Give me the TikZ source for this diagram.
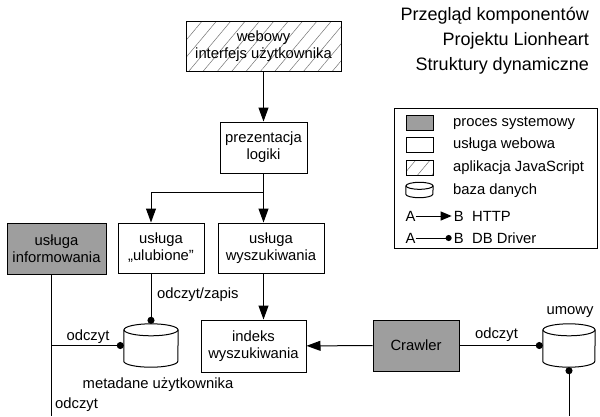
\documentclass[tikz,border=0pt]{standalone}
\usepackage{fontspec}
\setmainfont{Liberation Sans}
\usetikzlibrary{arrows.meta,patterns.meta}
\tikzset{
  comp/.style={draw, line width=1pt, align=center, inner sep=0pt},
  sysproc/.style={comp, fill=black!38},
  jsapp/.style={comp, pattern={Lines[angle=50,distance=11pt,line width=0.5pt]}, pattern color=black!55},
  dbase/.style={inner sep=0pt},
  http/.style={line width=1pt, -{Triangle[length=14pt,width=10pt]}},
  dbdrv/.style={line width=1pt, -{Circle[length=7pt]}},
  lghttp/.style={line width=1pt, -{Triangle[length=11pt,width=9pt]}},
  lgdbdrv/.style={line width=1pt, -{Circle[length=6pt]}},
}
% #1 node name, #2 half width, #3 depth of the ellipse
\newcommand{\dbcyl}[3]{%
  \draw[line width=1pt] ([yshift=-#3]#1.north west) -- ([yshift=#3]#1.south west)
    arc[start angle=180, end angle=360, x radius=#2, y radius=#3]
    -- ([yshift=-#3]#1.north east);
  \draw[line width=1pt] ([yshift=-#3]#1.north) ellipse [x radius=#2, y radius=#3];
}
\begin{document}
\begin{tikzpicture}[x=1pt,y=-1pt,every node/.style={font=\fontsize{14.8}{17}\selectfont, inner sep=0pt}]
\useasboundingbox (0,0) rectangle (600,416);
\node[anchor=east, align=right, font=\fontsize{18}{25}\selectfont] (title) at (589,28) {Przegląd komponentów\\Projektu Lionheart};
\node[anchor=east, font=\fontsize{18}{22}\selectfont] (subtitle) at (589,66) {Struktury dynamiczne};
\node[jsapp, minimum width=155pt, minimum height=50pt] (webui) at (263.5,46) {webowy\\interfejs użytkownika};
\node[comp, minimum width=87pt, minimum height=51pt] (prez) at (263.5,147.5) {prezentacja\\logiki};
\node[comp, minimum width=86pt, minimum height=50pt] (ulub) at (161,248) {usługa\\„ulubione''};
\node[comp, minimum width=106pt, minimum height=50pt] (wysz) at (271,248) {usługa\\wyszukiwania};
\node[sysproc, minimum width=99pt, minimum height=51pt] (info) at (56.5,248.5) {usługa\\informowania};
\node[comp, minimum width=105pt, minimum height=52pt] (indeks) at (253.5,346) {indeks\\wyszukiwania};
\node[sysproc, minimum width=86pt, minimum height=51pt] (crawler) at (416,345.5) {Crawler};
\node[dbase, minimum width=54pt, minimum height=43pt] (meta) at (151,345.5) {};
\node[dbase, minimum width=52pt, minimum height=43pt] (umowy) at (569,345.5) {};
\dbcyl{meta}{27pt}{6pt}
\dbcyl{umowy}{26pt}{6pt}
\coordinate (infoout) at (51,416);
\coordinate (umowyout) at (569,416);
\draw[http] (webui) -- (prez);
\draw[http] (prez.south) -- ++(0,19) -| ([xshift=-10pt]ulub.north);
\draw[http] (prez.south) -- (prez.south |- wysz.north);
\draw[http] (prez.south |- wysz.south) -- (prez.south |- indeks.north);
\draw[http] (crawler) -- (indeks);
\draw[dbdrv] ([xshift=-10pt]ulub.south) -- (meta.north);
\draw[dbdrv] (crawler) -- (umowy.west);
\draw[line width=1pt] (info.south -| infoout) -- (infoout);
\draw[dbdrv] (infoout |- meta.west) -- (meta.west);
\draw[line width=1pt, {Circle[length=7pt]}-] (umowy.south) -- (umowyout);
\node[anchor=west] (lbrw) at (157,295) {odczyt/zapis};
\node (lbr1) at (88,337) {odczyt};
\node (lbmeta) at (158,385) {metadane użytkownika};
\node[anchor=west] (lbr2) at (55,405) {odczyt};
\node (lbr3) at (496.5,335) {odczyt};
\node (lbumowy) at (570,312) {umowy};
\node[draw, line width=1pt, minimum width=203pt, minimum height=140pt] (legend) at (495.5,178) {};
\node[sysproc, minimum width=27pt, minimum height=15pt] (lgproc) at (419.5,122.5) {};
\node[comp, minimum width=27pt, minimum height=15pt] (lgweb) at (419.5,144.5) {};
\node[jsapp, minimum width=27pt, minimum height=15pt] (lgjs) at (419.5,167.5) {};
\node[dbase, minimum width=27pt, minimum height=15pt] (lgdb) at (419.5,190) {};
\dbcyl{lgdb}{13.5pt}{3.5pt}
\node[anchor=west] (lgproct) at (453,123) {proces systemowy};
\node[anchor=west] (lgwebt) at (453,145) {usługa webowa};
\node[anchor=west] (lgjst) at (453,168) {aplikacja JavaScript};
\node[anchor=west] (lgdbt) at (453,191) {baza danych};
\node (ha) at (410.5,216) {A};
\node (hb) at (458.8,216) {B};
\draw[lghttp] (ha.east) -- ([xshift=-2pt]hb.west);
\node[anchor=west] (httpt) at (472,216) {HTTP};
\node (da) at (410.5,238) {A};
\node (db) at (458.8,238) {B};
\draw[lgdbdrv] (da.east) -- ([xshift=-2pt]db.west);
\node[anchor=west] (dbt) at (472,238) {DB Driver};
\end{tikzpicture}
\end{document}
